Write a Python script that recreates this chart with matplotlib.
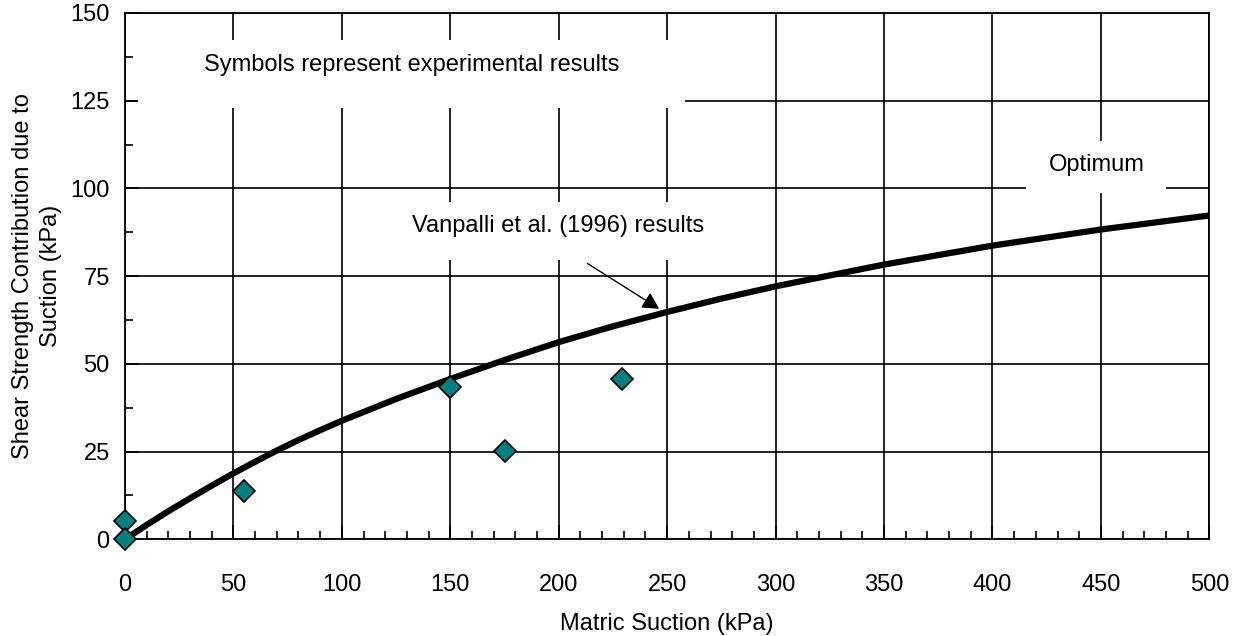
"""Shear strength contribution due to suction vs matric suction."""
import matplotlib

matplotlib.use("Agg")
import matplotlib.pyplot as plt
from matplotlib.patches import Rectangle
from matplotlib.ticker import MultipleLocator

plt.rcParams["font.family"] = ["Liberation Sans", "DejaVu Sans"]

# 예측 곡선 (Vanpalli et al. 1996)
curve_x = [0, 10, 20, 30, 40, 50, 60, 70, 80, 90, 100, 125, 150, 175, 200,
           225, 250, 275, 300, 350, 400, 450, 500]
curve_y = [0, 4.1, 8.0, 11.7, 15.3, 18.8, 22.1, 25.3, 28.3, 31.1, 33.8, 40.0,
           45.7, 51.1, 56.2, 60.7, 64.8, 68.6, 72.1, 78.3, 83.7, 88.3, 92.3]

# 실험 결과
exp_x = [0, 0, 55, 150, 175, 229]
exp_y = [5.3, 0, 13.7, 43.5, 25.3, 45.8]

x_ticks = [0, 50, 100, 150, 200, 250, 300, 350, 400, 450, 500]
y_ticks = [0, 25, 50, 75, 100, 125, 150]

FS = 17

fig = plt.figure(figsize=(12.41, 6.36), dpi=100)
ax = fig.add_axes([0.1007, 0.152, 0.8738, 0.8276])

ax.set_xlim(0, 500)
ax.set_ylim(0, 150)
ax.set_xticks(x_ticks)
ax.set_yticks(y_ticks)
ax.xaxis.set_minor_locator(MultipleLocator(10))
ax.yaxis.set_minor_locator(MultipleLocator(12.5))
ax.tick_params(which="major", direction="in", length=10, width=1.2,
               labelsize=FS)
ax.tick_params(which="minor", direction="in", length=6, width=1.2)
ax.tick_params(axis="x", which="major", pad=25)
ax.tick_params(axis="y", which="major", pad=11)
ax.set_axisbelow(True)
ax.grid(True, which="major", color="black", linewidth=1.2)
for s in ax.spines.values():
    s.set_linewidth(1.3)

# 텍스트 상자 뒤의 흰 배경 (격자선 가림)
for (x0, y0, w, h) in [(6, 122.8, 252, 19.6), (415.4, 98.6, 64.4, 14.8),
                       (125, 79.5, 156, 16.5)]:
    ax.add_patch(Rectangle((x0, y0), w, h, facecolor="white",
                           edgecolor="none", zorder=1))

ax.plot(curve_x, curve_y, color="black", linewidth=4.5, zorder=2,
        solid_capstyle="round", solid_joinstyle="round")
ax.plot(exp_x, exp_y, linestyle="none", marker="D", markersize=11,
        markerfacecolor="#008080", markeredgecolor="black",
        markeredgewidth=1.2, zorder=3, clip_on=False)

ax.text(132, 135.2, "Symbols represent experimental results",
        fontsize=FS, ha="center", va="center", zorder=4)
ax.text(448, 106.8, "Optimum", fontsize=FS, ha="center", va="center", zorder=4)
ax.text(132.5, 89.2, "Vanpalli et al. (1996) results", fontsize=FS,
        ha="left", va="center", zorder=4)
ax.annotate("", xy=(246.3, 65.7), xytext=(213.3, 78.6),
            arrowprops=dict(arrowstyle="-|>,head_length=0.5,head_width=0.27",
                            mutation_scale=20, color="black", lw=1,
                            shrinkA=0, shrinkB=0), zorder=4)

ax.set_xlabel("Matric Suction (kPa)", fontsize=FS, labelpad=12)
ax.set_ylabel("Shear Strength Contribution due to\nSuction (kPa)",
              fontsize=FS, labelpad=6, linespacing=1.35)

fig.savefig("out.png", dpi=100)
